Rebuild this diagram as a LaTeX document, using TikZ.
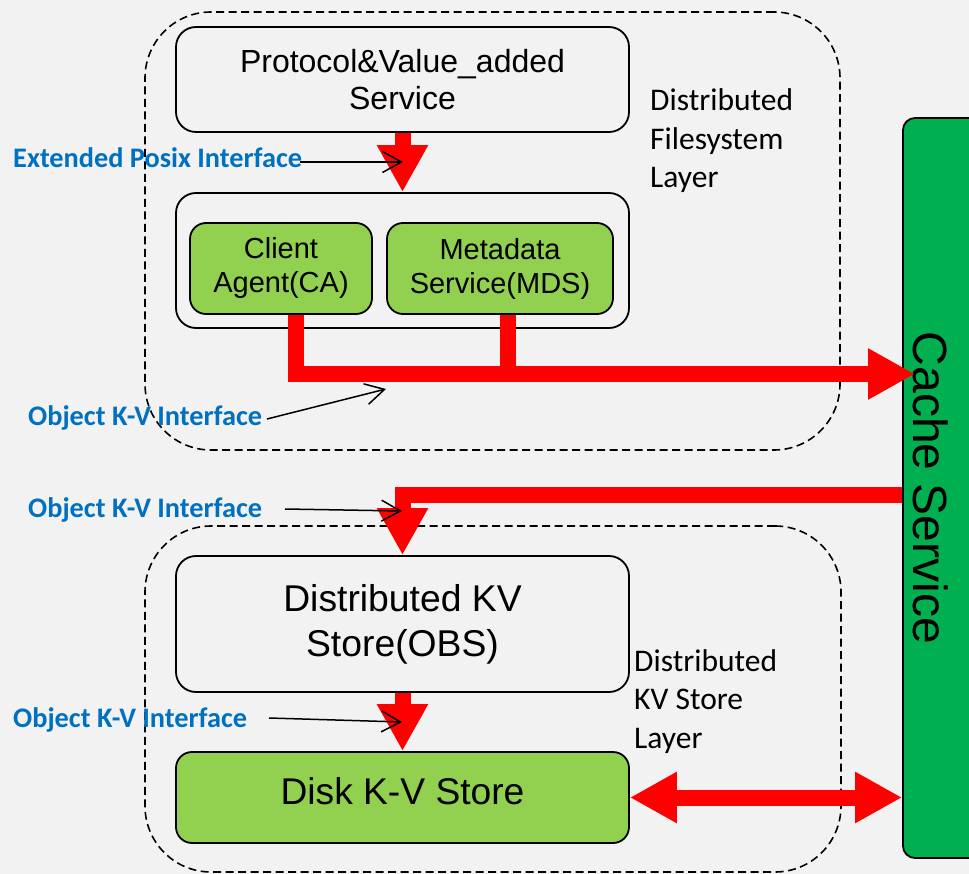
\documentclass[tikz,border=0pt]{standalone}
\usepackage{fontspec}
\setmainfont{Liberation Sans}
\newfontfamily\calibri{Carlito}
\usetikzlibrary{arrows.meta}
\definecolor{bg}{HTML}{F2F2F2}
\definecolor{lgreen}{HTML}{92D050}
\definecolor{dgreen}{HTML}{00B050}
\definecolor{pred}{HTML}{FF0000}
\definecolor{pblue}{HTML}{0070C0}
\tikzset{
  layerbox/.style={draw=black, line width=1.6pt, dash pattern=on 8pt off 4.5pt, rounded corners=66pt, inner sep=0pt},
  whitebox/.style={draw=black, line width=1.8pt, rounded corners=20pt, inner sep=0pt, align=center},
  greenbox/.style={whitebox, fill=lgreen, rounded corners=16pt},
  redline/.style={draw=pred, line width=16pt, line join=miter},
  redarrow/.style={redline, -{Triangle[length=47pt,width=48pt]}},
  reddouble/.style={redline, {Triangle[length=47pt,width=48pt]}-{Triangle[length=47pt,width=48pt]}},
  pointer/.style={draw=black, line width=1.5pt, -{Straight Barb[length=19pt,width=21pt,line width=1.5pt]}},
  bluelabel/.style={text=pblue, font=\calibri\bfseries\fontsize{28.3}{34}\selectfont, anchor=base west, inner sep=0pt},
  layerlabel/.style={font=\calibri\fontsize{31.5}{38.5}\selectfont, anchor=base west, inner sep=0pt, align=left}
}
\begin{document}
\begin{tikzpicture}[x=1pt,y=-1pt]
\useasboundingbox (0,0) rectangle (969,874);
\fill[bg] (0,0) rectangle (969,874);

% dashed layers
\node[layerbox, minimum width=695pt, minimum height=438pt] (fsl) at (492.5,231) {};
\node[layerbox, minimum width=696pt, minimum height=346pt] (kvl) at (493,699) {};

% boxes
\node[whitebox, minimum width=453pt, minimum height=105pt, font=\fontsize{32}{37}\selectfont] (proto) at (402.5,79.5) {Protocol\&Value\_added\\Service};
\node[whitebox, minimum width=453pt, minimum height=135pt] (fsbox) at (402.5,260.5) {};
\node[greenbox, minimum width=182pt, minimum height=91pt, font=\fontsize{29}{34}\selectfont] (ca) at (281,268.5) {Client\\Agent(CA)};
\node[greenbox, minimum width=226pt, minimum height=91pt, font=\fontsize{29}{34}\selectfont] (mds) at (500,268.5) {Metadata\\Service(MDS)};
\node[whitebox, minimum width=453pt, minimum height=136pt, font=\fontsize{37.3}{45}\selectfont] (kv) at (402.5,624) {Distributed KV\\Store(OBS)};
\node[greenbox, minimum width=453pt, minimum height=91pt, text depth=12pt, font=\fontsize{37.2}{45}\selectfont] (disk) at (402.5,797.5) {Disk K-V Store};
\node[draw=black, line width=1.8pt, fill=dgreen, rounded corners=12pt, minimum width=82pt, minimum height=740pt, inner sep=0pt] (cache) at (944,488) {};
\node[rotate=-90, font=\fontsize{48}{56}\selectfont, inner sep=0pt] (cachetxt) at (931,488) {Cache Service};

% layer labels (base = baseline of last line)
\node[layerlabel] (fslabel) at (650,188) {Distributed\\Filesystem\\Layer};
\node[layerlabel] (kvlabel) at (634,748) {Distributed\\KV Store\\Layer};

% red connectors
\coordinate (ctip) at (915,374);
\draw[redarrow] (proto.south) -- (fsbox.north);
\draw[redline] ([xshift=7.5pt]mds.south) -- ([xshift=7.5pt]mds.south |- ctip);
\draw[redarrow] ([xshift=15pt]ca.south) |- (ctip);
\draw[redarrow] ([yshift=-7pt]cache.west) -| (kv.north);
\draw[redarrow] (kv.south) -- (disk.north);
\draw[reddouble] (disk.east) -- (disk.east -| cache.west);

% blue labels and pointers
\node[bluelabel] (posix) at (13,168) {Extended Posix Interface};
\node[bluelabel] (okv1) at (28,425) {Object K-V Interface};
\node[bluelabel] (okv2) at (28,517) {Object K-V Interface};
\node[bluelabel] (okv3) at (13,727) {Object K-V Interface};

\coordinate (p1s) at (300,162); \coordinate (p1e) at (403,162);
\coordinate (p2s) at (267,419); \coordinate (p2e) at (386,389);
\coordinate (p3s) at (285,509); \coordinate (p3e) at (402,511);
\coordinate (p4s) at (269,718); \coordinate (p4e) at (402,722);
\draw[pointer] (p1s) -- (p1e);
\draw[pointer] (p2s) -- (p2e);
\draw[pointer] (p3s) -- (p3e);
\draw[pointer] (p4s) -- (p4e);
\end{tikzpicture}
\end{document}
